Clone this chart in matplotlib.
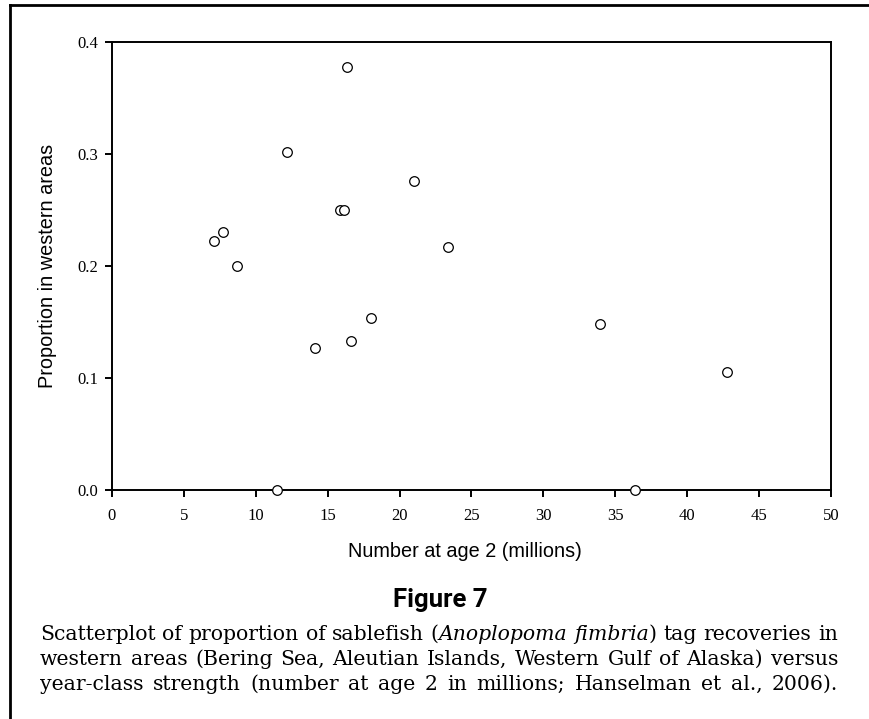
import matplotlib
matplotlib.use("Agg")
import matplotlib.pyplot as plt
from matplotlib.lines import Line2D

# ---- data ----
number_age2 = [16.37, 12.2, 20.97, 15.88, 16.11, 7.1, 7.71, 8.68, 23.36,
               14.1, 16.6, 17.99, 11.5, 33.96, 42.8, 36.35]
prop_western = [0.378, 0.302, 0.2756, 0.25, 0.25, 0.2226, 0.230, 0.2003, 0.217,
                0.1265, 0.133, 0.154, 0.0, 0.148, 0.1057, 0.0]
x_ticks = [0, 5, 10, 15, 20, 25, 30, 35, 40, 45, 50]
y_ticks = [0.0, 0.1, 0.2, 0.3, 0.4]
x_label = "Number at age 2 (millions)"
y_label = "Proportion in western areas"
fig_title = "Figure 7"
caption_lines = [
    [[("Scatterplot", "normal")], [("of", "normal")], [("proportion", "normal")],
     [("of", "normal")], [("sablefish", "normal")],
     [("(", "normal"), ("Anoplopoma", "italic")], [("fimbria", "italic"), (")", "normal")],
     [("tag", "normal")], [("recoveries", "normal")], [("in", "normal")]],
    [[("western", "normal")], [("areas", "normal")], [("(Bering", "normal")],
     [("Sea,", "normal")], [("Aleutian", "normal")], [("Islands,", "normal")],
     [("Western", "normal")], [("Gulf", "normal")], [("of", "normal")],
     [("Alaska)", "normal")], [("versus", "normal")]],
    [[("year-class", "normal")], [("strength", "normal")], [("(number", "normal")],
     [("at", "normal")], [("age", "normal")], [("2", "normal")], [("in", "normal")],
     [("millions;", "normal")], [("Hanselman", "normal")], [("et", "normal")],
     [("al.,", "normal")], [("2006).", "normal")]],
]

W, H = 870, 719
fig = plt.figure(figsize=(W / 100, H / 100), dpi=100)
fig.patch.set_facecolor("white")

ax = fig.add_axes([112 / W, 1 - 490 / H, (831 - 112) / W, (490 - 42) / H])
ax.scatter(number_age2, prop_western, s=48, facecolors="white", edgecolors="black",
           linewidths=0.9, zorder=5, clip_on=False)
ax.set_xlim(0, 50)
ax.set_ylim(0, 0.4)
ax.set_xticks(x_ticks)
ax.set_yticks(y_ticks)
ax.set_xticklabels([str(v) for v in x_ticks])
ax.set_yticklabels([f"{v:.1f}" for v in y_ticks])
for s in ax.spines.values():
    s.set_linewidth(1.4)
    s.set_zorder(3)
ax.tick_params(axis="both", direction="out", length=5, width=1.4,
               top=False, right=False, labelsize=12, labelfontfamily="Liberation Serif")
ax.tick_params(axis="x", pad=8)
ax.tick_params(axis="y", pad=5)

ax.set_xlabel(x_label, fontsize=14.3, family="Liberation Sans", va="baseline")
ax.xaxis.set_label_coords((464.5 - 112) / 719, (490 - 557) / 448)
ax.set_ylabel(y_label, fontsize=14.3, family="Liberation Sans", va="center")
ax.yaxis.set_label_coords((47.5 - 112) / 719, 0.5)

# figure frame (left and top)
fig.add_artist(Line2D([10.5 / W, 10.5 / W], [0, 1 - 5 / H], transform=fig.transFigure,
                      color="black", lw=2.0, solid_capstyle="projecting"))
fig.add_artist(Line2D([10.5 / W, 1], [1 - 5 / H, 1 - 5 / H], transform=fig.transFigure,
                      color="black", lw=2.0, solid_capstyle="projecting"))

# title
fig.text(440 / W, 1 - 607 / H, fig_title, ha="center", va="baseline",
         fontsize=18.5, fontweight="bold", family=["Liberation Sans Narrow", "Roboto"])

# justified caption
renderer = fig.canvas.get_renderer()
left_px, right_px = 40, 838
target = right_px - left_px
baselines = [640, 665, 690]
probe_size = 13.0


def line_string(line):
    return " ".join("".join(t for t, _ in word) for word in line)


ratios = []
for line in caption_lines:
    probe = fig.text(0, 0, line_string(line), fontsize=probe_size, family="DejaVu Serif")
    ratios.append(target / probe.get_window_extent(renderer).width)
    probe.remove()
cap_size = probe_size * min(ratios) * 0.995

for line, base in zip(caption_lines, baselines):
    word_items = []
    total = 0.0
    for word in line:
        segs = []
        for txt, style in word:
            t = fig.text(0, 0, txt, fontsize=cap_size, family="DejaVu Serif",
                         style=style, ha="left", va="baseline")
            w = t.get_window_extent(renderer).width
            segs.append((t, w))
            total += w
        word_items.append(segs)
    gap = (target - total) / (len(line) - 1)
    x = left_px
    for segs in word_items:
        for t, w in segs:
            t.set_position((x / W, 1 - base / H))
            x += w
        x += gap

fig.savefig("out.png", dpi=100)
